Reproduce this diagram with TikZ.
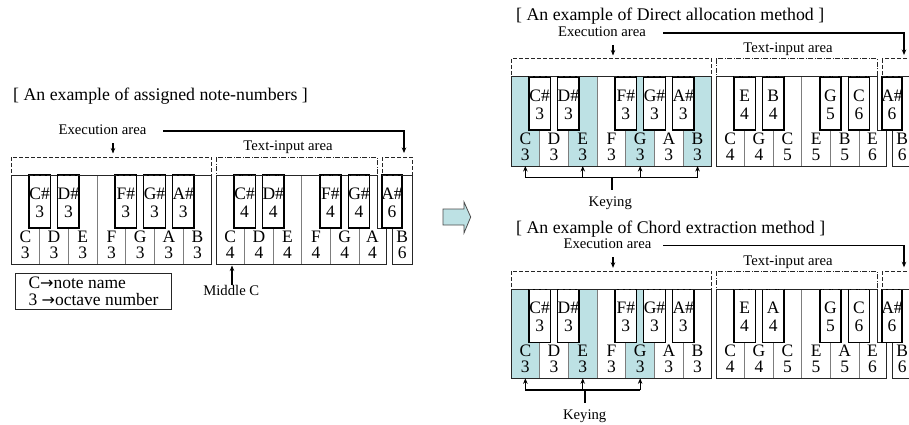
\documentclass[tikz,border=0pt]{standalone}
\usepackage{fontspec}
\setmainfont{Liberation Serif}
\newfontfamily\symfont{DejaVu Sans}
\usetikzlibrary{arrows.meta}
\definecolor{keycyan}{RGB}{189,225,228}
\definecolor{keyline}{RGB}{125,125,125}
\def\kw{28.7}
\def\tw{28.6}
\tikzset{
  whitesep/.style={draw=keyline, line width=0.9pt},
  outerkb/.style={draw=black!85, line width=1pt},
  blackkey/.style={draw=black, line width=1.4pt, fill=white},
  execbox/.style={draw=black!85, line width=1pt, dash pattern=on 4pt off 2pt},
  textbox/.style={draw=black!85, line width=1pt, dash pattern=on 5pt off 1.5pt on 1pt off 1.5pt},
  keylabel/.style={font=\fontsize{17.5}{17.5}\selectfont, inner sep=0pt, anchor=base},
  arealabel/.style={font=\fontsize{14.7}{14.7}\selectfont, inner sep=0pt, anchor=base},
  heading/.style={font=\fontsize{17.8}{17.8}\selectfont, inner sep=0pt, anchor=base west},
  legendtext/.style={font=\fontsize{17.5}{17.5}\selectfont, inner sep=0pt, anchor=base west},
  ptr/.style={line width=1.1pt, -{Stealth[length=5.5pt,width=4.5pt]}},
  conn/.style={line width=1.1pt},
  stemline/.style={line width=1.8pt},
}
% exec keyboard: #1 prefix, #2 X, #3 Y, #4 fills (7)
\newcommand\execkb[4]{%
  \foreach \col [count=\k from 0] in {#4}
    \fill[\col] ({#2+\k*\kw},{#3}) rectangle ({#2+(\k+1)*\kw},{#3+89});
  \foreach \k in {1,2,4,5,6}
    \draw[whitesep] ({#2+\k*\kw},{#3+53}) -- ({#2+\k*\kw},{#3+89});
  \draw[whitesep] ({#2+3*\kw},{#3}) -- ({#2+3*\kw},{#3+89});
  \draw[outerkb] ({#2},{#3}) rectangle ({#2+7*\kw},{#3+89});
  \foreach \b/\nm [count=\j] in {1/C\#,2/D\#,4/F\#,5/G\#,6/A\#}{
    \draw[blackkey] ({#2+\b*\kw-10.75},{#3}) rectangle ({#2+\b*\kw+10.75},{#3+53});
    \node[keylabel] (#1bn\j) at ({#2+\b*\kw},{#3+24.5}) {\nm};
    \node[keylabel] (#1bo\j) at ({#2+\b*\kw},{#3+42.5}) {3};
  }
  \foreach \nm [count=\k from 0] in {C,D,E,F,G,A,B}{
    \node[keylabel] (#1wn\k) at ({#2+(\k+0.5)*\kw},{#3+67}) {\nm};
    \node[keylabel] (#1wo\k) at ({#2+(\k+0.5)*\kw},{#3+83}) {3};
    \coordinate (#1wb\k) at ({#2+(\k+0.5)*\kw},{#3+89});
  }
}
% text-input keyboard: #1 prefix, #2 X, #3 Y, #4 white n/o (6), #5 black pos/n/o (4)
\newcommand\textkb[5]{%
  \foreach \k in {1,2,4,5}
    \draw[whitesep] ({#2+205+\k*\tw},{#3+53}) -- ({#2+205+\k*\tw},{#3+89});
  \draw[whitesep] ({#2+205+3*\tw},{#3}) -- ({#2+205+3*\tw},{#3+89});
  \draw[outerkb] ({#2+205},{#3}) -- ({#2+366},{#3}) -- ({#2+366},{#3+53}) -- ({#2+375},{#3+53})
     -- ({#2+375},{#3+89}) -- ({#2+205},{#3+89}) -- cycle;
  \draw[outerkb] ({#2+381},{#3}) rectangle ({#2+401.7},{#3+89});
  \foreach \b/\nm/\oc [count=\j] in {#5}{
    \draw[blackkey] ({#2+205+\b*\tw-10.6},{#3}) rectangle ({#2+205+\b*\tw+10.6},{#3+53});
    \node[keylabel] (#1tbn\j) at ({#2+205+\b*\tw},{#3+24.5}) {\nm};
    \node[keylabel] (#1tbo\j) at ({#2+205+\b*\tw},{#3+42.5}) {\oc};
  }
  \draw[blackkey] ({#2+371},{#3}) rectangle ({#2+391},{#3+53});
  \node[keylabel] (#1sbn) at ({#2+381},{#3+24.5}) {A\#};
  \node[keylabel] (#1sbo) at ({#2+381},{#3+42.5}) {6};
  \node[keylabel] (#1swn) at ({#2+391.3},{#3+67}) {B};
  \node[keylabel] (#1swo) at ({#2+391.3},{#3+83}) {6};
  \foreach \nm/\oc [count=\k from 0] in {#4}{
    \pgfmathsetmacro\cx{\k<5 ? #2+205+(\k+0.5)*\tw : #2+361.5}
    \node[keylabel] (#1twn\k) at (\cx,{#3+67}) {\nm};
    \node[keylabel] (#1two\k) at (\cx,{#3+83}) {\oc};
  }
}
% full panel: #1 prefix, #2 X, #3 Y, #4 fills, #5 white, #6 black, #7 exec label x offset
\newcommand\panel[7]{%
  \execkb{#1}{#2}{#3}{#4}
  \textkb{#1}{#2}{#3}{#5}{#6}
  \draw[execbox] ({#2},{#3-18}) rectangle ({#2+7*\kw},{#3});
  \draw[textbox] ({#2+205},{#3-18}) rectangle ({#2+366},{#3});
  \draw[execbox] ({#2+371},{#3-18}) rectangle ({#2+401.5},{#3});
  \node[arealabel] (#1exec) at ({#2+#7},{#3-40.7}) {Execution area};
  \node[arealabel] (#1text) at ({#2+277},{#3-24.3}) {Text-input area};
  \coordinate (#1ea) at ({#2+102},{#3-32});
  \coordinate (#1eb) at ({#2+102},{#3-21.5});
  \draw[ptr] (#1ea) -- (#1eb);
  \coordinate (#1la) at ({#2+152},{#3-44});
  \coordinate (#1lb) at ({#2+393},{#3-44});
  \coordinate (#1lc) at ({#2+393},{#3-22});
  \draw[ptr] (#1la) -- (#1lb) -- (#1lc);
}
\begin{document}
\begin{tikzpicture}[x=1pt,y=-1pt]
\useasboundingbox (0,0) rectangle (909,425);
\fill[white] (0,0) rectangle (909,425);

% ---- left panel ----
\node[heading] (h1) at (13,100.7) {[ An example of assigned note-numbers ]};
\panel{P1}{11}{175}{white,white,white,white,white,white,white}
  {C/4,D/4,E/4,F/4,G/4,A/4}{1/C\#/4,2/D\#/4,4/F\#/4,5/G\#/4}{91.5}
\node[draw=black!85, line width=0.9pt, minimum width=156pt, minimum height=36pt, inner sep=0pt] (legend) at (93.7,291) {};
\node[legendtext] (lg1) at (28.3,288.3) {C{\symfont\fontsize{16}{16}\selectfont →}note name};
\node[legendtext] (lg2) at (28.3,305) {3 {\symfont\fontsize{16}{16}\selectfont →}octave number};
\node[arealabel] (midc) at (231.3,295) {Middle C};
\coordinate (mca) at (232,284.5);
\coordinate (mcb) at (232,265.5);
\draw[ptr] (mca) -- (mcb);

% ---- big arrow ----
\filldraw[fill=keycyan, draw=black!70, line width=0.8pt]
  (443,209) -- (464,209) -- (464,202) -- (470.7,217) -- (464,233) -- (464,225) -- (443,225) -- cycle;

% ---- right top panel ----
\node[heading] (h2) at (516,20.7) {[ An example of Direct allocation method ]};
\panel{P2}{511}{77}{keycyan,white,keycyan,white,keycyan,white,keycyan}
  {C/4,G/4,C/5,E/5,B/5,E/6}{1/E/4,2/B/4,4/G/5,5/C/6}{91}
\coordinate (P2bar) at (612.3,177.5);
\coordinate (P2stem) at (612.3,189.5);
\draw[conn] (P2wb0 |- P2bar) -- (P2wb6 |- P2bar);
\foreach \k in {0,2,4,6} \draw[ptr] (P2wb\k |- P2bar) -- (P2wb\k);
\draw[stemline] (P2bar) -- (P2stem);
\node[arealabel] (P2key) at (610.3,206) {Keying};

% ---- right bottom panel ----
\node[heading] (h3) at (516,233.3) {[ An example of Chord extraction method ]};
\panel{P3}{511}{289.3}{keycyan,white,keycyan,white,keycyan,white,white}
  {C/4,G/4,C/5,E/5,A/5,E/6}{1/E/4,2/A/4,4/G/5,5/C/6}{96.5}
\coordinate (P3bar) at (585,390);
\coordinate (P3stem) at (585,403);
\draw[conn] (P3wb0 |- P3bar) -- (P3wb4 |- P3bar);
\foreach \k in {0,2,4} \draw[ptr] (P3wb\k |- P3bar) -- (P3wb\k);
\draw[stemline] (P3bar) -- (P3stem);
\node[arealabel] (P3key) at (584.7,419.3) {Keying};
\end{tikzpicture}
\end{document}
